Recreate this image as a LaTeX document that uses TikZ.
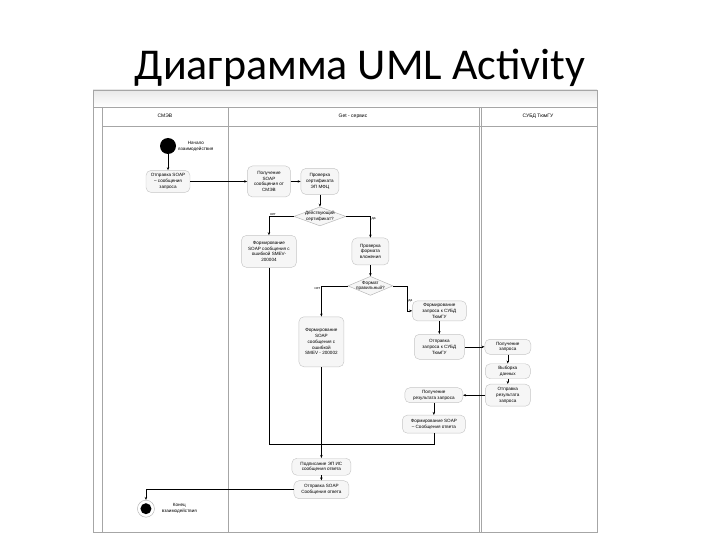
\documentclass[tikz,border=0pt]{standalone}
\usepackage{fontspec}
\setmainfont{Carlito}
\newfontfamily\diafont{Liberation Sans}
\usetikzlibrary{arrows.meta, positioning, shapes.geometric}
\tikzset{
    actdiagram/.style={>={Stealth[length=3pt,width=2.4pt]}, line width=0.45pt, x=1pt, y=-1pt,
        font=\diafont\fontsize{4.6}{5.8}\selectfont},
    act/.style={draw=gray!45, fill=gray!7, rounded corners=5pt, align=center, inner sep=1pt},
    choice/.style={diamond, draw=gray!60, fill=gray!7, inner sep=0pt, minimum width=52pt, minimum height=19pt},
    actstart/.style={circle, fill, minimum size=16pt, inner sep=0pt},
    actend/.style={circle, draw=gray!60, fill=white, minimum size=17pt, inner sep=0pt,
        path picture={\fill[black] (path picture bounding box.center) circle (5.5pt);}},
    lanebox/.style={draw=gray!70, line width=0.6pt},
    lanehead/.style={font=\diafont\fontsize{5}{6}\selectfont, inner sep=0pt},
    % yes/no labels at the decision branches
    branchlbl/.style={font=\diafont\fontsize{3.6}{4}\selectfont, inner sep=1pt},
}
\begin{document}
\begin{tikzpicture}[actdiagram]
    \useasboundingbox (0,0) rectangle (720,540);
    \node[font=\fontsize{44}{48}\selectfont] (title) at (360,68) {Диаграмма UML Activity};

    % swimlanes
    \shade[top color=gray!18, bottom color=white] (93,90) rectangle (597,107);
    \draw[lanebox] (93,90) rectangle (597,532);
    \draw[lanebox] (93,107) -- (597,107);
    \draw[lanebox] (102,107) -- (102,532);
    \draw[lanebox] (102,126) -- (597,126);
    \draw[lanebox] (228,107) -- (228,532);
    \draw[lanebox] (479,107) -- (479,532);
    \draw[lanebox] (481,107) -- (481,532);
    \node[lanehead] (lane1) at (165,116) {СМЭВ};
    \node[lanehead] (lane2) at (353,116) {Get - сервис};
    \node[lanehead] (lane3) at (538,116) {СУБД ТюмГУ};

    \node[actstart] (start) at (168,146) {};
    \node[right=2pt of start, align=center, inner sep=0pt] (startlbl) {Начало\\взаимодействия};
    \node[act, below=16pt of start, minimum width=44pt, minimum height=22pt] (snd) {Отправка SOAP\\– сообщения\\запроса};
    \node[act, right=57pt of snd, minimum width=43pt, minimum height=31pt] (rcv) {Получение\\SOAP\\сообщения от\\СМЭВ};
    \node[act, right=10pt of rcv, minimum width=38pt, minimum height=26pt] (chk) {Проверка\\сертификата\\ЭП МФЦ};
    \node[choice, below=12pt of chk, label={[align=center]center:Действующий\\сертификат?}] (d1) {};
    \node[act, below=38pt of rcv, minimum width=55pt, minimum height=32pt] (err4) {Формирование\\SOAP сообщения с\\ошибкой SMEV-\\200004};
    \node[act, right=55pt of err4, minimum width=37pt, minimum height=27pt] (fmt) {Проверка\\формата\\вложения};
    \node[choice, below=11pt of fmt, minimum width=45pt, label={[align=center]center:Формат\\правильный?}] (d2) {};
    \node[act, below=21pt of d2, xshift=-49pt, minimum width=45pt, minimum height=50pt] (err2) {Формирование\\SOAP\\сообщения с\\ошибкой\\SMEV - 200002};
    \node[act, right=19pt of d2, yshift=-25pt, minimum width=54pt, minimum height=20pt] (qry) {Формирование\\запроса к СУБД\\ТюмГУ};
    \node[act, below=13pt of qry, minimum width=50pt, minimum height=25pt] (sndq) {Отправка\\запроса к СУБД\\ТюмГУ};
    \node[act, right=20pt of sndq, minimum width=46pt, minimum height=15pt] (getq) {Получение\\запроса};
    \node[act, below=9pt of getq, minimum width=45pt, minimum height=15pt] (sel) {Выборка\\данных};
    \node[act, below=5pt of sel, minimum width=45pt, minimum height=22pt] (res) {Отправка\\результата\\запроса};
    \node[act, left=22pt of res, minimum width=58pt, minimum height=15pt] (getr) {Получение\\результата запроса};
    \node[act, below=12pt of getr, minimum width=63pt, minimum height=18pt] (fotv) {Формирование SOAP\\– Сообщения ответа};
    \coordinate[below=11pt of fotv] (mrg);
    \node[act, below=91pt of err2, minimum width=59pt, minimum height=17pt] (sign) {Подписание ЭП ИС\\сообщения ответа};
    \node[act, below=5pt of sign, minimum width=55pt, minimum height=18pt] (sans) {Отправка SOAP\\Сообщения ответа};
    \node[actend, left=139pt of sans, yshift=-19pt] (end) {};
    \node[right=7pt of end, align=center, inner sep=0pt] (endlbl) {Конец\\взаимодействия};

    \draw[->] (start) -- (snd);
    \draw[->] (snd) -- (rcv);
    \draw[->] (rcv) -- (chk);
    \draw[->] (chk) -- (d1);

    % certificate check
    \draw[->] (d1.west) -| node[branchlbl, pos=0.42, above] {нет} (err4.north);
    \draw[->] (d1.east) -| node[branchlbl, pos=0.55, right] {да} (fmt.north);
    \draw[->] (fmt) -- (d2);

    % format check
    \draw[->] (d2.west) -| node[branchlbl, pos=0.55, left] {нет} (err2.north);
    \draw[->] (d2.east) -- ++(14,0) |- node[branchlbl, pos=0.3, right] {да} (qry.west);
    \draw[->] (qry) -- (sndq);
    \draw[->] (sndq) -- (getq);
    \draw[->] (getq) -- (sel);
    \draw[->] (sel) -- (res);
    \draw[->] (res) -- (getr);
    \draw[->] (getr) -- (fotv);

    % answer
    \draw (err4.south) |- (mrg) -- (fotv.south);
    \draw[->] (err2) -- (sign);
    \draw[->] (sign) -- (sans);
    \draw[->] (sans.west) -| (end.north);
\end{tikzpicture}
\end{document}
